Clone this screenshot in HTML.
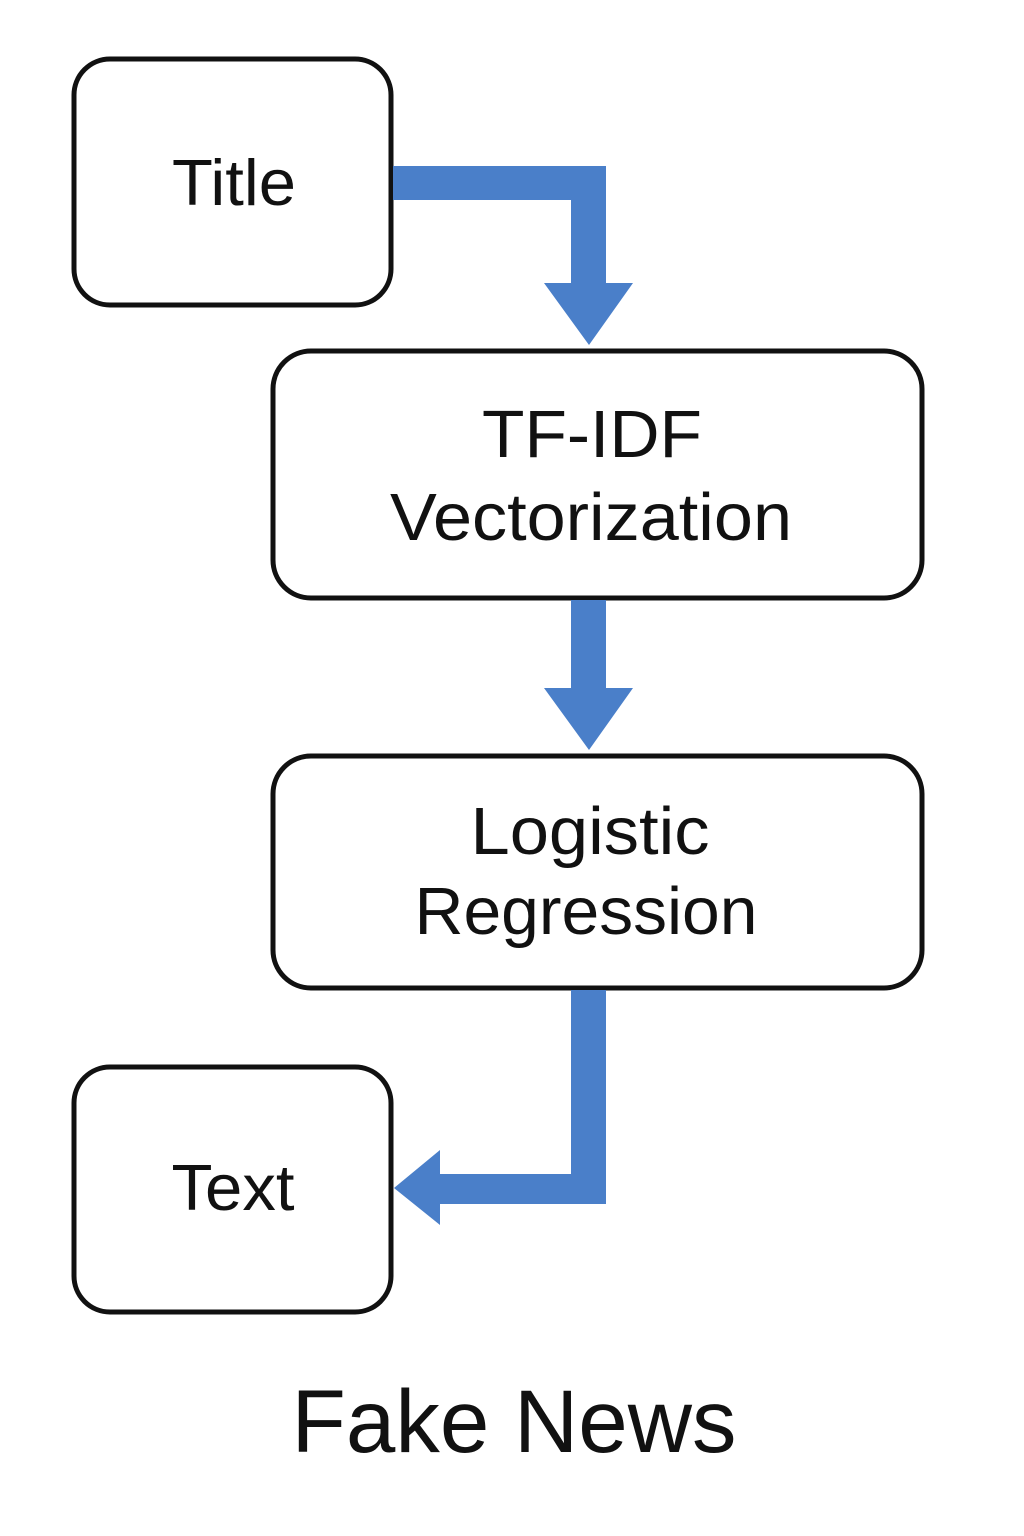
<!DOCTYPE html>
<html><head><meta charset="utf-8"><style>
html,body{margin:0;padding:0;background:#fff}
svg{display:block}
text{font-family:"Liberation Sans",sans-serif;fill:#111;text-anchor:middle}
</style></head><body>
<svg width="1024" height="1536" viewBox="0 0 1024 1536" xmlns="http://www.w3.org/2000/svg">
<g fill="#fff" stroke="#111" stroke-width="5">
<rect x="74" y="59" width="317" height="246" rx="36"/>
<rect x="273" y="351" width="649" height="247" rx="38"/>
<rect x="273" y="756" width="649" height="232" rx="38"/>
<rect x="74" y="1067" width="317" height="245" rx="36"/>
</g>
<g fill="#4a7fc9">
<polygon points="393,166 606,166 606,283 633,283 589,345 544,283 571,283 571,200 393,200"/>
<polygon points="571,600 606,600 606,688 633,688 589,750 544,688 571,688"/>
<polygon points="571,990 606,990 606,1204 440,1204 440,1225 394,1188 440,1150 440,1174 571,1174"/>
</g>
<g lengthAdjust="spacingAndGlyphs">
<text x="234" y="205" font-size="65" textLength="124" lengthAdjust="spacingAndGlyphs">Title</text>
<text x="592" y="457" font-size="67" textLength="220" lengthAdjust="spacingAndGlyphs">TF-IDF</text>
<text x="591" y="540" font-size="67" textLength="402" lengthAdjust="spacingAndGlyphs">Vectorization</text>
<text x="590" y="854" font-size="67" textLength="239" lengthAdjust="spacingAndGlyphs">Logistic</text>
<text x="586" y="934" font-size="67" textLength="343" lengthAdjust="spacingAndGlyphs">Regression</text>
<text x="233" y="1210" font-size="65" textLength="123" lengthAdjust="spacingAndGlyphs">Text</text>
<text x="514" y="1452" font-size="89" textLength="445" lengthAdjust="spacingAndGlyphs">Fake News</text>
</g>
</svg>
</body></html>
